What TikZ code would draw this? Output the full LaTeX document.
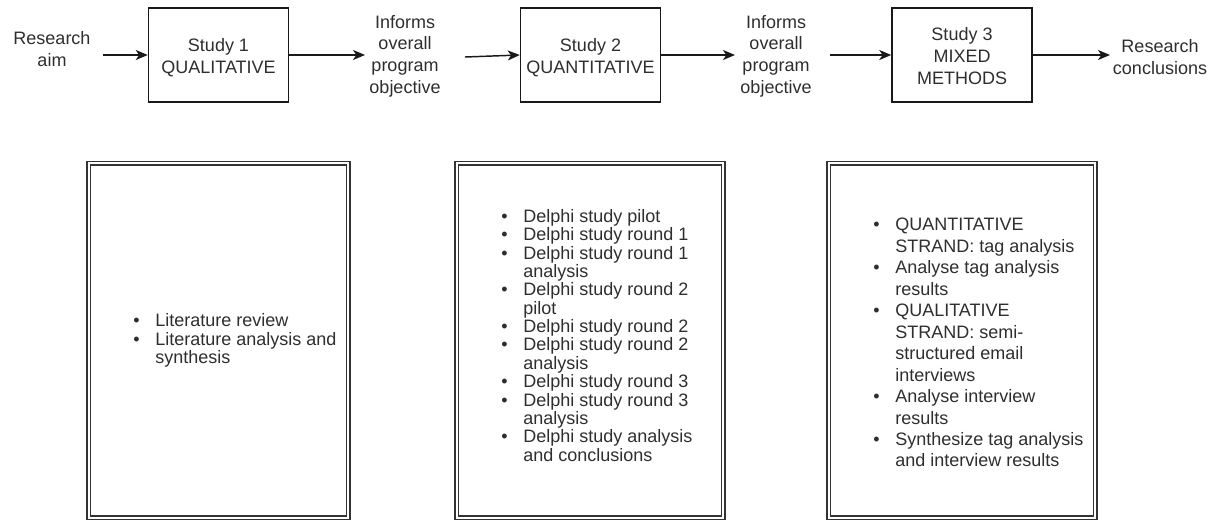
\documentclass[tikz,border=0pt]{standalone}
\usepackage{fontspec}
\setmainfont{Liberation Sans}
\usetikzlibrary{arrows.meta}
\newcommand\blt{\makebox[16.5pt][l]{\textbullet}}
\begin{document}
\begin{tikzpicture}[x=0.75pt,y=-0.75pt,
  txt/.style={inner sep=0pt, text=black!82, font=\fontsize{13.5pt}{16.3pt}\selectfont},
  studybox/.style={draw=black!90, line width=1.1pt, minimum width=105pt, minimum height=70.5pt, inner sep=0pt},
  listbox/.style={draw=black!80, line width=1.1pt, double=white, double distance=1.5pt, inner sep=0pt, minimum height=265.8pt},
  arr/.style={draw=black!90, line width=1.1pt, -{Stealth[length=9pt,width=7.5pt,inset=2.5pt]}},
  lst/.style={inner sep=0pt, anchor=west, text=black!82, font=\fontsize{13.5pt}{13.3pt}\selectfont},
  lstwide/.style={lst, font=\fontsize{13.5pt}{16.1pt}\selectfont}
]
\useasboundingbox (0,0) rectangle (1227,519);
\clip (0,0) rectangle (1227,519);

% top row boxes
\node[studybox] (s1) at (218.5,55) {};
\node[studybox] (s2) at (590.5,55) {};
\node[studybox] (s3) at (962,55) {};
\node[txt] (s1t) at (218.5,58.5) {\begin{tabular}{@{}c@{}}Study 1\\QUALITATIVE\end{tabular}};
\node[txt] (s2t) at (590.5,58.5) {\begin{tabular}{@{}c@{}}Study 2\\QUANTITATIVE\end{tabular}};
\node[txt] (s3t) at (962,58) {\begin{tabular}{@{}c@{}}Study 3\\MIXED\\METHODS\end{tabular}};

% top row labels
\node[txt] (ra) at (52,51.5) {\begin{tabular}{@{}c@{}}Research\\aim\end{tabular}};
\node[txt] (inf1) at (405,56.4) {\begin{tabular}{@{}c@{}}Informs\\overall\\program\\objective\end{tabular}};
\node[txt] (inf2) at (776,56.4) {\begin{tabular}{@{}c@{}}Informs\\overall\\program\\objective\end{tabular}};
\node[txt] (rc) at (1160,59.5) {\begin{tabular}{@{}c@{}}Research\\conclusions\end{tabular}};

% connector end points
\coordinate (a1s) at (103,55);
\coordinate (a2e) at (365,55);
\coordinate (a3s) at (465,57);
\coordinate (a4e) at (735,55);
\coordinate (a5s) at (830,55);
\coordinate (a6e) at (1110,55);

\draw[arr] (a1s) -- (s1.west);
\draw[arr] (s1.east) -- (a2e);
\draw[arr] (a3s) -- (s2.west);
\draw[arr] (s2.east) -- (a4e);
\draw[arr] (a5s) -- (s3.west);
\draw[arr] (s3.east) -- (a6e);

% bottom boxes
\node[listbox, minimum width=194.6pt] (b1) at (218.5,340.5) {};
\node[listbox, minimum width=199.9pt] (b2) at (590,340.5) {};
\node[listbox, minimum width=199.9pt] (b3) at (962,340.5) {};

\node[lst] (l1) at (133,341.3) {\begin{tabular}{@{}l@{}l@{}}
\blt & Literature review\\
\blt & Literature analysis and\\
     & synthesis
\end{tabular}};

\node[lst] (l2) at (501,337.9) {\begin{tabular}{@{}l@{}l@{}}
\blt & Delphi study pilot\\
\blt & Delphi study round 1\\
\blt & Delphi study round 1\\
     & analysis\\
\blt & Delphi study round 2\\
     & pilot\\
\blt & Delphi study round 2\\
\blt & Delphi study round 2\\
     & analysis\\
\blt & Delphi study round 3\\
\blt & Delphi study round 3\\
     & analysis\\
\blt & Delphi study analysis\\
     & and conclusions
\end{tabular}};

\node[lstwide] (l3) at (873,344.6) {\begin{tabular}{@{}l@{}l@{}}
\blt & QUANTITATIVE\\
     & STRAND: tag analysis\\
\blt & Analyse tag analysis\\
     & results\\
\blt & QUALITATIVE\\
     & STRAND: semi-\\
     & structured email\\
     & interviews\\
\blt & Analyse interview\\
     & results\\
\blt & Synthesize tag analysis\\
     & and interview results
\end{tabular}};
\end{tikzpicture}
\end{document}
